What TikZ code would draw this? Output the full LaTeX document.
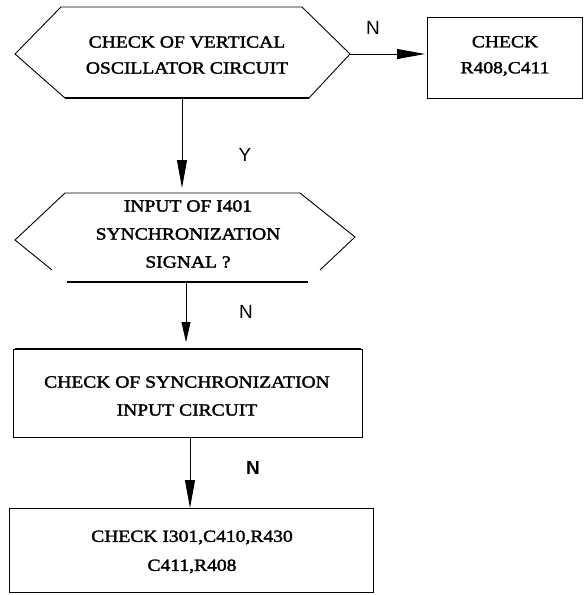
\documentclass[tikz,border=0pt]{standalone}
\usepackage{fontspec}
\newfontfamily\tf[FakeStretch=1.15,FakeBold=2]{Liberation Serif}
\newfontfamily\lf{Liberation Sans}
\usetikzlibrary{arrows.meta}
\tikzset{
  txt/.style={align=center, font=\tf\fontsize{17}{26}\selectfont, inner sep=0pt},
  lbl/.style={font=\lf\fontsize{19}{22}\selectfont, inner sep=0pt},
  outline/.style={draw=black, line width=0.9pt, line join=miter},
  thick edge/.style={draw=black, line width=2.2pt},
  conn/.style={draw=black, line width=0.8pt, -{Triangle[length=28pt,width=10pt]}},
  shortconn/.style={draw=black, line width=0.8pt, -{Triangle[length=20pt,width=9pt]}},
  boxnode/.style={draw=black, line width=0.9pt, inner sep=0pt}
}
\begin{document}
\begin{tikzpicture}[x=1pt,y=-1pt]
\useasboundingbox (0,0) rectangle (584,595);
% hexagon 1
\draw[outline] (61,7) -- (302,7) -- (350,54) -- (309,98) -- (65,98) -- (15,54) -- cycle;
\draw[thick edge] (65,98) -- (309,98);
\node[txt] (h1) at (187,55) {CHECK OF VERTICAL\\OSCILLATOR CIRCUIT};
\coordinate (h1e) at (350,54);
\coordinate (h1s) at (182,98);
% box 1
\node[boxnode, minimum width=155pt, minimum height=81pt] (b1) at (504.5,57.5) {};
\node[txt, font=\tf\fontsize{17}{26}\selectfont] (b1t) at (505,56) {CHECK\\R408,C411};
\coordinate (b1w) at (425,54);
\draw[conn] (h1e) -- (b1w);
\node[lbl] (ln1) at (373,28) {N};
% hexagon 2
\draw[outline] (52,270) -- (15,240) -- (65,193) -- (300,193) -- (355,237) -- (320,270);
\draw[thick edge] (67,282) -- (308,282);
\node[txt, font=\tf\fontsize{17}{28}\selectfont] (h2) at (188,234) {INPUT OF I401\\SYNCHRONIZATION\\SIGNAL ?};
\coordinate (h2n) at (182,188);
\coordinate (h2s) at (186,283);
\draw[conn] (h1s) -- (h2n);
\node[lbl] (ly) at (245,155) {Y};
% box 3
\node[boxnode, minimum width=349pt, minimum height=88pt] (b3) at (187.5,393) {};
\draw[thick edge] (15,349) -- (361,349);
\node[txt, font=\tf\fontsize{17}{28}\selectfont] (b3t) at (187,396) {CHECK OF SYNCHRONIZATION\\INPUT CIRCUIT};
\coordinate (b3n) at (186,342);
\coordinate (b3s) at (190,437);
\draw[shortconn] (h2s) -- (b3n);
\node[lbl] (ln2) at (246,312) {N};
% box 4
\node[boxnode, minimum width=364pt, minimum height=84pt] (b4) at (191,550) {};
\node[txt, font=\tf\fontsize{17}{29}\selectfont] (b4t) at (192,552) {CHECK I301,C410,R430\\C411,R408};
\coordinate (b4n) at (190,508);
\draw[conn] (b3s) -- (b4n);
\node[lbl, font=\lf\bfseries\fontsize{19}{22}\selectfont] (ln3) at (253,468) {N};
\end{tikzpicture}
\end{document}
